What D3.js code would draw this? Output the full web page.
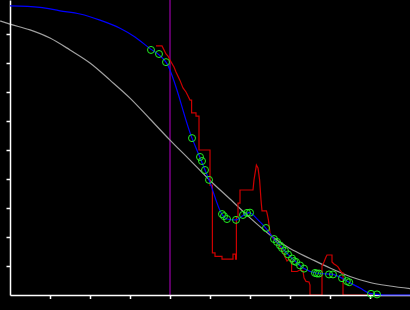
<!DOCTYPE html>
<html>
<head>
<meta charset="utf-8">
<script src="https://cdn.jsdelivr.net/npm/d3@7"></script>
<style>
  body { margin: 0; background: #000; }
  svg { display: block; }
  .axis path, .axis line { stroke: #fff; stroke-width: 1.5; }
</style>
</head>
<body>
<div id="chart"></div>
<script>
// tick positions (no labels in the original)
let xTicks = [1, 2, 3, 4, 5, 6, 7, 8, 9];
let yTicks = [0.1, 0.2, 0.3, 0.4, 0.5, 0.6, 0.7, 0.8, 0.9];

// vertical marker
let markerX = 4;

// smooth reference curve (gray)
let refX = [-0.25, 0, 0.5, 1, 1.5, 2, 2.5, 3, 3.5, 4, 4.5, 5, 5.5, 6, 6.5, 7, 7.5, 8, 8.5, 9, 9.5, 10];
let refY = [0.945, 0.934, 0.914, 0.886, 0.845, 0.800, 0.741, 0.679, 0.607, 0.534, 0.465, 0.395, 0.331, 0.266, 0.207, 0.160, 0.126, 0.093, 0.064, 0.043, 0.031, 0.022];

// fitted curve (blue)
let fitX = [0, 0.75, 1.25, 1.75, 2.25, 2.75, 3.125, 3.525, 3.725, 3.9, 4.55, 4.75, 4.875, 4.975, 5.3, 5.425, 5.65, 5.825, 5.975, 6.2, 6.4, 6.6, 6.75, 6.95, 7.125, 7.35, 7.675, 8.075, 8.3, 8.475, 8.75, 9.025, 9.175, 9.375, 10];
let fitY = [0.997, 0.992, 0.980, 0.969, 0.948, 0.920, 0.890, 0.847, 0.828, 0.803, 0.541, 0.474, 0.431, 0.397, 0.278, 0.262, 0.259, 0.274, 0.284, 0.259, 0.230, 0.193, 0.171, 0.140, 0.117, 0.091, 0.075, 0.071, 0.058, 0.044, 0.024, 0.0045, 0.0024, 0, 0];

// observations (green circles)
let obsX = [3.525, 3.725, 3.9, 4.55, 4.75, 4.8, 4.875, 4.975, 5.3, 5.35, 5.425, 5.65, 5.825, 5.925, 6.0, 6.4, 6.6, 6.675, 6.75, 6.8, 6.875, 6.95, 7.05, 7.1, 7.15, 7.25, 7.35, 7.625, 7.675, 7.725, 7.975, 8.075, 8.3, 8.42, 8.48, 9.025, 9.175];
let obsY = [0.845, 0.831, 0.803, 0.541, 0.476, 0.462, 0.431, 0.397, 0.279, 0.272, 0.262, 0.259, 0.276, 0.283, 0.284, 0.231, 0.193, 0.183, 0.171, 0.162, 0.152, 0.140, 0.126, 0.117, 0.114, 0.102, 0.091, 0.076, 0.074, 0.074, 0.071, 0.071, 0.058, 0.048, 0.044, 0.004, 0.002];

// raw empirical trace (red)
let rawX = [3.65, 3.8, 3.9, 3.95, 4.0, 4.1, 4.15, 4.25, 4.325, 4.4, 4.45, 4.5, 4.54, 4.54, 4.65, 4.65, 4.725, 4.725, 5.0, 5.0, 5.06, 5.06, 5.125, 5.125, 5.3, 5.3, 5.575, 5.575, 5.64, 5.64, 5.66, 5.66, 5.7, 5.7, 5.75, 5.75, 6.075, 6.1, 6.16, 6.2, 6.24, 6.275, 6.3, 6.41, 6.425, 6.46, 6.5, 6.55, 6.65, 6.75, 6.85, 6.925, 6.975, 7.04, 7.04, 7.175, 7.25, 7.325, 7.35, 7.4, 7.475, 7.5, 7.5, 7.8, 7.8, 7.85, 7.9, 7.925, 8.05, 8.05, 8.1, 8.15, 8.2, 8.25, 8.3, 8.325, 8.325, 9.2];
let rawY = [0.859, 0.859, 0.831, 0.824, 0.810, 0.786, 0.769, 0.740, 0.714, 0.700, 0.686, 0.672, 0.672, 0.628, 0.628, 0.617, 0.617, 0.500, 0.500, 0.379, 0.379, 0.145, 0.145, 0.133, 0.133, 0.124, 0.124, 0.141, 0.141, 0.124, 0.124, 0.269, 0.269, 0.317, 0.317, 0.362, 0.362, 0.397, 0.448, 0.438, 0.397, 0.328, 0.290, 0.290, 0.283, 0.259, 0.214, 0.200, 0.186, 0.166, 0.138, 0.117, 0.124, 0.114, 0.081, 0.081, 0.086, 0.083, 0.059, 0.047, 0.045, 0.034, 0, 0, 0.1, 0.114, 0.131, 0.138, 0.138, 0.114, 0.107, 0.103, 0.097, 0.086, 0.076, 0.076, 0, 0];

let width = 410;
let height = 310;
let left = 10;
let bottom = 295;

let xScale = d3.scaleLinear().domain([0, 10]).range([left, width]);
let yScale = d3.scaleLinear().domain([0, 1]).range([bottom, 5]);
// same scale stretched to the top edge, only for the axis line
let yAxisScale = yScale.copy().domain([0, yScale.invert(0)]).range([bottom, 0]);

let svg = d3.select("#chart").append("svg")
  .attr("width", width)
  .attr("height", height)
  .style("background", "#000");

// marker line
svg.append("line")
  .attr("x1", xScale(markerX)).attr("x2", xScale(markerX))
  .attr("y1", yAxisScale(yAxisScale.domain()[1])).attr("y2", yScale(0))
  .attr("stroke", "#9a00a8")
  .attr("stroke-width", 1.2);

let zip = (xs, ys) => xs.map((x, i) => [x, ys[i]]);

let smooth = d3.line()
  .x(d => xScale(d[0]))
  .y(d => yScale(d[1]))
  .curve(d3.curveMonotoneX);

let straight = d3.line()
  .x(d => xScale(d[0]))
  .y(d => yScale(d[1]));

svg.append("path")
  .datum(zip(refX, refY))
  .attr("d", smooth)
  .attr("fill", "none")
  .attr("stroke", "#a0a0a0")
  .attr("stroke-width", 1.2);

svg.append("path")
  .datum(zip(rawX, rawY))
  .attr("d", straight)
  .attr("fill", "none")
  .attr("stroke", "#cc0000")
  .attr("stroke-width", 1.2);

// axes
svg.append("g")
  .attr("class", "axis")
  .attr("transform", `translate(0,${bottom})`)
  .call(d3.axisBottom(xScale).tickValues(xTicks).tickSizeInner(4).tickSizeOuter(0).tickFormat(""));

svg.append("g")
  .attr("class", "axis")
  .attr("transform", `translate(${left},0)`)
  .call(d3.axisLeft(yAxisScale).tickValues(yTicks).tickSizeInner(3.5).tickSizeOuter(0).tickFormat(""));

svg.append("path")
  .datum(zip(fitX, fitY))
  .attr("d", smooth)
  .attr("fill", "none")
  .attr("stroke", "#0000ff")
  .attr("stroke-width", 1.2);

svg.selectAll("circle")
  .data(zip(obsX, obsY))
  .enter()
  .append("circle")
  .attr("cx", d => xScale(d[0]))
  .attr("cy", d => yScale(d[1]))
  .attr("r", 3.5)
  .attr("fill", "none")
  .attr("stroke", "#22ee22")
  .attr("stroke-width", 1);
</script>
</body>
</html>
